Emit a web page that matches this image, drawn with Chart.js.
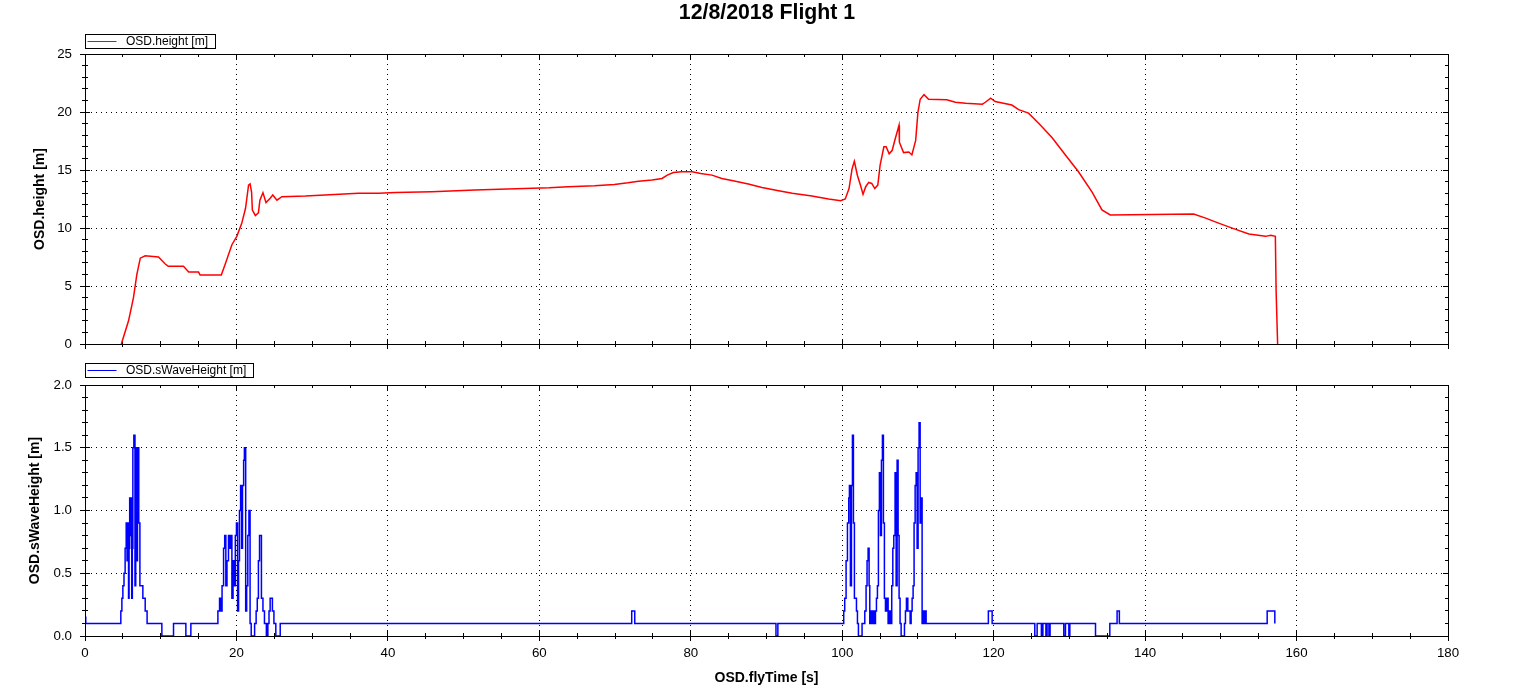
<!DOCTYPE html>
<html lang="en">
<head>
  <meta charset="UTF-8">
  <title>12/8/2018 Flight 1</title>
  <script src="https://cdn.jsdelivr.net/npm/chart.js"></script>
  <style>
    html, body { margin: 0; padding: 0; background: #fff; overflow: hidden; }
    canvas { position: absolute; left: 0; }
  </style>
</head>
<body>
  <canvas id="grafHeight" width="1534" height="360" style="top:0"></canvas>
  <canvas id="grafWave" width="1534" height="337" style="top:350px"></canvas>

  <script>
    // OSD.height [m] vs OSD.flyTime [s]
    var heightTime = [4.8, 5.75, 6.4, 6.85, 7.3, 7.95, 9.7, 10.6, 11.0, 13.0, 13.7, 15.0, 15.2, 18.0, 18.5, 19.4, 20.05, 20.7, 21.2, 21.6,
      21.8, 22.0, 22.1, 22.5, 22.9, 23.1, 23.5, 23.9, 24.45, 24.8, 25.35, 26.0, 29.1, 31.7, 36.1, 38.8, 41.0, 45.8, 51.5, 56.9,
      61.3, 63.8, 67.3, 69.9, 71.7, 73.1, 74.9, 76.2, 76.9, 77.7, 78.8, 80.2, 81.3, 82.8, 84.1, 85.9, 87.6, 89.4, 91.6, 93.4,
      96.0, 98.2, 99.8, 100.4, 100.9, 101.3, 101.6, 102.0, 102.4, 102.75, 103.1, 103.5, 103.9, 104.3, 104.7, 105.0, 105.5, 105.8, 106.2, 106.6,
      107.0, 107.5, 107.55, 108.1, 108.8, 109.2, 109.7, 110.0, 110.3, 110.8, 111.4, 113.8, 114.95, 116.3, 118.5, 118.9, 119.6, 120.2, 122.4, 123.3,
      124.6, 126.0, 127.7, 129.5, 131.2, 133.0, 134.3, 135.4, 146.4, 148.0, 149.7, 151.5, 153.7, 155.9, 156.6, 157.2, 157.3, 157.5];
    var heightValues = [0, 2.0, 4.0, 6.0, 7.4, 7.6, 7.5, 6.9, 6.7, 6.7, 6.2, 6.2, 5.95, 5.95, 6.85, 8.56, 9.28, 10.4, 11.7, 13.7,
      13.8, 13.1, 11.55, 11.08, 11.3, 12.4, 13.05, 12.2, 12.56, 12.85, 12.4, 12.7, 12.76, 12.85, 13.0, 13.0, 13.07, 13.13, 13.27, 13.39,
      13.47, 13.56, 13.64, 13.76, 13.9, 14.04, 14.13, 14.27, 14.56, 14.79, 14.84, 14.84, 14.7, 14.56, 14.27, 14.04, 13.79, 13.5, 13.22, 12.99,
      12.76, 12.5, 12.36, 12.5, 13.4, 15.1, 15.75, 14.55, 13.7, 12.9, 13.56, 13.93, 13.84, 13.4, 13.7, 15.4, 17.0, 17.0, 16.4, 16.7,
      17.7, 18.85, 17.4, 16.5, 16.55, 16.3, 17.55, 20.0, 21.1, 21.5, 21.1, 21.06, 20.84, 20.75, 20.67, 20.84, 21.2, 20.9, 20.6, 20.2,
      19.9, 18.98, 17.8, 16.27, 14.85, 13.1, 11.56, 11.13, 11.2, 10.85, 10.42, 9.99, 9.48, 9.28, 9.37, 9.28, 4.57, 0];

    // OSD.sWaveHeight [m] (valor que se mantiene desde cada instante)
    var waveTime = [0, 0.1,
      4.73, 4.87, 5.0, 5.15, 5.3, 5.44, 5.55, 5.65, 5.75, 5.82, 5.9, 6.0, 6.05, 6.17, 6.25, 6.32, 6.45, 6.6, 6.7, 6.8, 6.87, 6.93, 7.1, 7.25, 7.64, 7.95, 8.2,
      10.15, 11.69, 13.32, 13.98,
      17.55, 17.77, 17.95, 18.1, 18.3, 18.45, 18.6, 18.75, 18.95, 19.12, 19.25, 19.4, 19.55, 19.7, 19.85, 20.0, 20.15, 20.28, 20.4, 20.55,
      20.68, 20.8, 20.95, 21.05, 21.22, 21.35, 21.5, 21.65, 21.8, 21.95, 22.4, 22.6, 22.75, 22.9, 23.05, 23.3, 23.5, 23.7, 23.95, 24.15,
      24.3, 24.45, 24.75, 24.95, 25.2, 25.78,
      72.2, 72.6, 91.25, 91.5,
      100.2, 100.33, 100.51, 100.69, 100.86, 100.95, 101.08, 101.22, 101.35, 101.48, 101.61, 101.88, 102.01, 102.14, 102.62,
      102.98, 103.15, 103.28, 103.42, 103.55, 103.64, 103.81, 103.95, 104.08, 104.21, 104.39, 104.52, 104.65, 104.78, 104.91,
      105.05, 105.18, 105.31, 105.44, 105.57, 105.71, 105.88, 106.06, 106.24, 106.37, 106.54, 106.68, 106.81, 106.98, 107.12,
      107.25, 107.38, 107.51, 107.64, 107.78, 108.22, 108.35, 108.48, 108.66, 108.97, 109.1, 109.23, 109.36, 109.49, 109.63,
      109.76, 109.89, 110.02, 110.15, 110.29, 110.42, 110.55, 110.68, 110.81, 110.95, 111.08,
      119.3, 119.8, 125.43, 125.74, 126.3, 126.5, 126.9, 127.05, 127.3, 127.45,
      129.26, 129.48, 129.93, 130.06, 133.45, 135.34, 136.3, 136.6, 156.12, 157.13];
    var waveValues = [0.15, 0.1,
      0.2, 0.3, 0.4, 0.5, 0.7, 0.9, 0.6, 0.9, 0.3, 0.7, 1.1, 0.8, 1.1, 0.3, 0.7, 1.5, 1.6, 0.4, 1.0, 1.5, 0.6, 1.5, 0.9, 0.4, 0.3, 0.2, 0.1,
      0, 0.1, 0, 0.1,
      0.2, 0.3, 0.2, 0.4, 0.7, 0.8, 0.4, 0.6, 0.8, 0.7, 0.8, 0.3, 0.6, 0.4, 0.8, 0.9, 0.2, 0.6, 1.0, 1.2,
      0.7, 1.2, 1.4, 1.5, 0.2, 0.4, 0.8, 1.0, 0.1, 0, 0.1, 0.2, 0.3, 0.6, 0.8, 0.3, 0.2, 0.1, 0, 0.1,
      0.2, 0.3, 0.2, 0.1, 0, 0.1,
      0.2, 0.1, 0, 0.1,
      0.2, 0.3, 0.6, 0.9, 1.1, 1.2, 0.4, 1.2, 1.6, 0.9, 0.3, 0.2, 0.1, 0, 0.1,
      0.2, 0.4, 0.6, 0.7, 0.4, 0.1, 0.2, 0.1, 0.2, 0.1, 0.2, 0.3, 0.4, 1.0, 1.3,
      0.8, 1.4, 1.6, 0.9, 0.3, 0.2, 0.3, 0.1, 0.2, 0.1, 0.4, 0.7, 0.8, 1.3, 0.4,
      1.4, 0.8, 0.3, 0.1, 0, 0.1, 0.2, 0.3, 0.2, 0.1, 0.2, 0.3, 0.4, 0.9, 1.2,
      1.3, 0.7, 1.5, 1.7, 0.9, 1.1, 0.1, 0.2, 0.1, 0.2, 0.1,
      0.2, 0.1, 0, 0.1, 0, 0.1, 0, 0.1, 0, 0.1,
      0, 0.1, 0, 0.1, 0, 0.1, 0.2, 0.1, 0.2, 0.1];

    Chart.defaults.font.family = "'Liberation Sans', Arial, sans-serif";
    Chart.defaults.color = '#000';

    // Caja de leyenda con borde, como en el original
    var legendBox = {
      id: 'legendBox',
      afterDraw: function (chart, args, opts) {
        var ctx = chart.ctx, a = chart.chartArea, ds = chart.data.datasets[0];
        ctx.save();
        ctx.font = "12px 'Liberation Sans', Arial, sans-serif";
        var x0 = Math.round(a.left) + 0.5;
        var y0 = Math.round(a.top + opts.top) + 0.5;
        var w = Math.round(41 + ctx.measureText(ds.label).width + 7);
        ctx.strokeStyle = '#000';
        ctx.lineWidth = 1;
        ctx.strokeRect(x0, y0, w, opts.height);
        ctx.strokeStyle = ds.borderColor;
        ctx.beginPath();
        ctx.moveTo(x0 + 2, y0 + 7);
        ctx.lineTo(x0 + 31, y0 + 7);
        ctx.stroke();
        ctx.fillStyle = '#000';
        ctx.textBaseline = 'middle';
        ctx.fillText(ds.label, x0 + 40.5, y0 + opts.height / 2 + 0.5);
        ctx.restore();
      }
    };

    // Eje auxiliar solo para marcas (menores o interiores)
    function tickScale(pos, axis, min, max, step, len) {
      return {
        type: 'linear', axis: axis, position: pos, min: min, max: max, display: true, weight: 0,
        ticks: { display: false, stepSize: step, autoSkip: false, maxTicksLimit: 1000 },
        grid: { drawOnChartArea: false, drawTicks: true, tickLength: len, tickColor: '#000' },
        border: { display: false },
        afterFit: function (s) { if (axis === 'x') s.height = 0; else s.width = 0; }
      };
    }

    function frameScale(pos, axis, min, max, step, size) {
      return {
        type: 'linear', axis: axis, position: pos, min: min, max: max, display: true, weight: 1,
        ticks: { display: false, stepSize: step, autoSkip: false, maxTicksLimit: 1000 },
        grid: { drawOnChartArea: false, drawTicks: true, tickLength: -5, tickColor: '#000' },
        border: { display: true, color: '#000', width: 1, z: 1 },
        afterFit: function (s) { if (axis === 'x') s.height = size; else s.width = size; }
      };
    }

    function buildScales(cfg) {
      return {
        x: {
          type: 'linear', position: 'bottom', weight: 1, min: 0, max: 180,
          ticks: { display: cfg.xLabels, stepSize: 20, autoSkip: false, maxTicksLimit: 1000, padding: 4.5, color: '#000', font: { size: 13.3 } },
          grid: { color: '#000', lineWidth: 1, tickLength: 5, tickColor: '#000' },
          border: { color: '#000', width: 1, dash: [1, 4], z: 1 },
          title: { display: cfg.xLabels, text: 'OSD.flyTime [s]', color: '#000', font: { size: 14, weight: 'bold' }, padding: { top: 0, bottom: 0.6 } },
          afterFit: function (s) { s.height = cfg.xHeight; }
        },
        xMinOut: tickScale('bottom', 'x', 0, 180, 5, 3),
        xMajIn: tickScale('bottom', 'x', 0, 180, 20, -5),
        xMinIn: tickScale('bottom', 'x', 0, 180, 5, -3),
        xTop: frameScale('top', 'x', 0, 180, 20, 0),
        xTopMin: tickScale('top', 'x', 0, 180, 5, -3),
        y: {
          type: 'linear', position: 'left', weight: 1, min: cfg.yMin, max: cfg.yMax,
          ticks: { stepSize: cfg.yMajor, autoSkip: false, maxTicksLimit: 1000, padding: 8, color: '#000', font: { size: 13.3 }, callback: cfg.yFmt },
          grid: { color: '#000', lineWidth: 1, tickLength: 5, tickColor: '#000' },
          border: { color: '#000', width: 1, dash: [1, 4], z: 1 },
          title: { display: true, text: cfg.yTitle, color: '#000', font: { size: 14, weight: 'bold' }, padding: { top: cfg.yTitlePad, bottom: 0 } },
          afterFit: function (s) { s.width = 85; }
        },
        yMinOut: tickScale('left', 'y', cfg.yMin, cfg.yMax, cfg.yMinor, 3),
        yMajIn: tickScale('left', 'y', cfg.yMin, cfg.yMax, cfg.yMajor, -5),
        yMinIn: tickScale('left', 'y', cfg.yMin, cfg.yMax, cfg.yMinor, -3),
        yRight: frameScale('right', 'y', cfg.yMin, cfg.yMax, cfg.yMajor, 86),
        yRightMin: tickScale('right', 'y', cfg.yMin, cfg.yMax, cfg.yMinor, -3)
      };
    }

    var graficaAltura = new Chart(document.getElementById('grafHeight'), {
      type: 'line',
      data: {
        datasets: [{
          label: 'OSD.height [m]',
          data: heightTime.map(function (t, i) { return { x: t, y: heightValues[i] }; }),
          borderColor: '#ff0000', borderWidth: 1.5, pointRadius: 0, tension: 0
        }]
      },
      options: {
        responsive: false, animation: false, events: [],
        layout: { padding: 0 },
        plugins: {
          legend: { display: false }, tooltip: { enabled: false },
          title: { display: true, text: '12/8/2018 Flight 1', color: '#000', font: { size: 21.3, weight: 'bold' }, padding: { top: 0.5, bottom: 27.94 } },
          legendBox: { top: -20, height: 14 }
        },
        scales: buildScales({ xLabels: false, xHeight: 14, yMin: 0, yMax: 25, yMajor: 5, yMinor: 1,
          yFmt: function (v) { return v; }, yTitle: 'OSD.height [m]', yTitlePad: 31.6 })
      },
      plugins: [legendBox]
    });

    var graficaOla = new Chart(document.getElementById('grafWave'), {
      type: 'line',
      data: {
        datasets: [{
          label: 'OSD.sWaveHeight [m]',
          data: waveTime.map(function (t, i) { return { x: t, y: waveValues[i] }; }),
          borderColor: '#0000ff', borderWidth: 1.5, pointRadius: 0, tension: 0, stepped: true
        }]
      },
      options: {
        responsive: false, animation: false, events: [],
        layout: { padding: { top: 35, left: 0, right: 0, bottom: 0 } },
        plugins: {
          legend: { display: false }, tooltip: { enabled: false },
          legendBox: { top: -22, height: 14 }
        },
        scales: buildScales({ xLabels: true, xHeight: 51, yMin: 0, yMax: 2, yMajor: 0.5, yMinor: 0.1,
          yFmt: function (v) { return v.toFixed(1); }, yTitle: 'OSD.sWaveHeight [m]', yTitlePad: 26.6 })
      },
      plugins: [legendBox]
    });
  </script>
</body>
</html>
